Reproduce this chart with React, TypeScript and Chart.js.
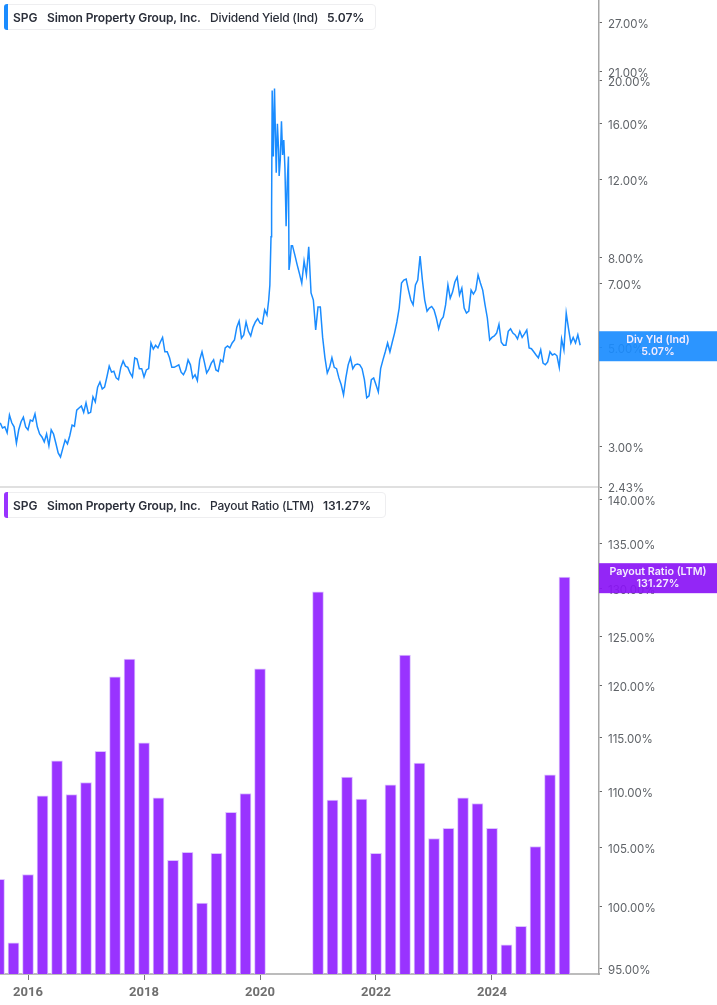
import React, { useEffect, useRef } from 'react';
import { Chart, registerables } from 'chart.js';

Chart.register(...registerables);

// --- data ---
const yieldDates = [
  2015.52, 2015.56, 2015.6, 2015.64, 2015.68, 2015.72, 2015.76, 2015.8, 2015.84, 2015.88, 2015.92, 2015.96,
  2016.0, 2016.04, 2016.08, 2016.12, 2016.16, 2016.2, 2016.24, 2016.28, 2016.32, 2016.36, 2016.4, 2016.44, 2016.48, 2016.52, 2016.56, 2016.6, 2016.64, 2016.68, 2016.72, 2016.76, 2016.8, 2016.84, 2016.88, 2016.92, 2016.96,
  2017.0, 2017.04, 2017.08, 2017.12, 2017.16, 2017.2, 2017.24, 2017.28, 2017.32, 2017.36, 2017.4, 2017.44, 2017.48, 2017.52, 2017.56, 2017.6, 2017.64, 2017.68, 2017.72, 2017.76, 2017.8, 2017.84, 2017.88, 2017.92, 2017.96,
  2018.0, 2018.04, 2018.08, 2018.12, 2018.16, 2018.2, 2018.24, 2018.28, 2018.32, 2018.36, 2018.4, 2018.44, 2018.48, 2018.52, 2018.56, 2018.6, 2018.64, 2018.68, 2018.72, 2018.76, 2018.8, 2018.84, 2018.88, 2018.92, 2018.96,
  2019.0, 2019.04, 2019.08, 2019.12, 2019.16, 2019.2, 2019.24, 2019.28, 2019.32, 2019.36, 2019.4, 2019.44, 2019.48, 2019.52, 2019.56, 2019.6, 2019.64, 2019.68, 2019.72, 2019.76, 2019.8, 2019.84, 2019.88, 2019.92, 2019.96,
  2020.0, 2020.04, 2020.08, 2020.12, 2020.15, 2020.17, 2020.19, 2020.2, 2020.21, 2020.23, 2020.25, 2020.26, 2020.28, 2020.3, 2020.32, 2020.33, 2020.35, 2020.37, 2020.39, 2020.41, 2020.43, 2020.45, 2020.47, 2020.49, 2020.5, 2020.52, 2020.54, 2020.56, 2020.6, 2020.64, 2020.68, 2020.72, 2020.76, 2020.8, 2020.84, 2020.88, 2020.92, 2020.96,
  2021.0, 2021.04, 2021.08, 2021.12, 2021.16, 2021.2, 2021.24, 2021.28, 2021.32, 2021.36, 2021.4, 2021.44, 2021.48, 2021.52, 2021.56, 2021.6, 2021.64, 2021.68, 2021.72, 2021.76, 2021.8, 2021.84, 2021.88, 2021.92, 2021.96,
  2022.0, 2022.04, 2022.08, 2022.12, 2022.16, 2022.2, 2022.24, 2022.28, 2022.32, 2022.36, 2022.4, 2022.44, 2022.48, 2022.52, 2022.56, 2022.6, 2022.64, 2022.68, 2022.72, 2022.76, 2022.8, 2022.84, 2022.88, 2022.92, 2022.96,
  2023.0, 2023.04, 2023.08, 2023.12, 2023.16, 2023.2, 2023.24, 2023.28, 2023.32, 2023.36, 2023.4, 2023.44, 2023.48, 2023.52, 2023.56, 2023.6, 2023.64, 2023.68, 2023.72, 2023.76, 2023.8, 2023.84, 2023.88, 2023.92, 2023.96,
  2024.0, 2024.04, 2024.08, 2024.12, 2024.16, 2024.2, 2024.24, 2024.28, 2024.32, 2024.36, 2024.4, 2024.44, 2024.48, 2024.52, 2024.56, 2024.6, 2024.64, 2024.68, 2024.72, 2024.76, 2024.8, 2024.84, 2024.88, 2024.92, 2024.96,
  2025.0, 2025.04, 2025.08, 2025.12, 2025.16, 2025.2, 2025.24, 2025.28, 2025.32, 2025.36, 2025.4, 2025.44, 2025.48, 2025.52,
];
const yieldValues = [
  3.39, 3.3, 3.32, 3.22, 3.53, 3.39, 3.32, 3.05, 3.27, 3.41, 3.49, 3.32,
  3.27, 3.44, 3.42, 3.55, 3.32, 3.2, 3.15, 3.07, 3.2, 3.01, 3.27, 3.2, 3.05, 2.9, 2.84, 2.97, 3.1, 3.04, 3.17, 3.35, 3.33, 3.62, 3.66, 3.7, 3.58,
  3.76, 3.56, 3.58, 3.88, 3.78, 4.08, 4.19, 4.04, 4.08, 4.3, 4.55, 4.41, 4.43, 4.28, 4.24, 4.52, 4.67, 4.55, 4.52, 4.39, 4.3, 4.75, 4.72, 4.49, 4.49,
  4.3, 4.46, 4.49, 5.13, 4.97, 5.07, 5.0, 5.15, 5.28, 4.9, 4.9, 4.75, 4.52, 4.52, 4.55, 4.58, 4.41, 4.35, 4.46, 4.7, 4.58, 4.28, 4.35, 4.22, 4.7,
  4.9, 4.65, 4.39, 4.48, 4.62, 4.7, 4.46, 4.43, 4.7, 4.65, 5.0, 5.05, 5.0, 5.13, 5.21, 5.57, 5.75, 5.26, 5.35, 5.72, 5.45, 5.32, 5.57, 5.72, 5.82,
  5.69, 5.66, 6.09, 5.93, 6.41, 6.93, 8.9, 10.4, 19.0, 13.5, 19.2, 16.5, 12.4, 16.0, 14.0, 12.2, 13.3, 16.2, 13.6, 14.7, 12.7, 9.4, 11.8, 13.5, 7.49, 7.85, 8.5, 8.5, 8.1, 7.7, 7.35, 7.0, 7.85, 7.3, 8.45, 6.65, 6.41, 5.49,
  6.18, 6.18, 5.28, 4.75, 4.39, 4.52, 4.75, 4.52, 4.49, 4.28, 4.13, 3.92, 4.28, 4.58, 4.75, 4.49, 4.58, 4.6, 4.58, 4.49, 4.24, 3.86, 3.9, 4.24, 4.28,
  4.13, 3.98, 4.49, 4.7, 4.9, 5.13, 4.9, 5.15, 5.4, 5.72, 6.15, 7.0, 7.11, 7.15, 6.75, 6.41, 6.25, 6.93, 7.11, 8.05, 7.11, 6.41, 6.05, 6.15, 6.2,
  6.09, 5.84, 5.52, 5.78, 5.87, 6.25, 6.93, 6.47, 6.68, 7.04, 7.22, 6.58, 6.82, 6.15, 5.99, 6.05, 6.75, 6.61, 6.75, 7.3, 7.0, 6.75, 6.25, 5.84, 5.21,
  5.28, 5.32, 5.4, 5.65, 5.15, 5.07, 5.07, 5.45, 5.52, 5.4, 5.35, 5.24, 5.45, 5.28, 5.38, 5.49, 5.0, 4.98, 4.9, 4.82, 4.75, 4.95, 4.62, 4.58, 4.65,
  4.9, 4.82, 4.85, 4.8, 4.52, 5.24, 4.95, 5.99, 5.52, 5.13, 5.28, 5.13, 5.35, 5.07,
];

const payoutQuarters = [
  2015.5, 2015.75,
  2016.0, 2016.25, 2016.5, 2016.75,
  2017.0, 2017.25, 2017.5, 2017.75,
  2018.0, 2018.25, 2018.5, 2018.75,
  2019.0, 2019.25, 2019.5, 2019.75,
  2020.0,
  2021.0, 2021.25, 2021.5, 2021.75,
  2022.0, 2022.25, 2022.5, 2022.75,
  2023.0, 2023.25, 2023.5, 2023.75,
  2024.0, 2024.25, 2024.5, 2024.75,
  2025.0, 2025.25,
];
const payoutValues = [
  102.3, 97.06,
  102.7, 109.6, 112.8, 109.7,
  110.8, 113.7, 120.9, 122.7,
  114.5, 109.4, 103.9, 104.6,
  100.3, 104.5, 108.1, 109.8,
  121.7,
  129.7, 109.2, 111.3, 109.3,
  104.5, 110.6, 123.1, 112.6,
  105.8, 106.7, 109.4, 108.9,
  106.7, 96.9, 98.4, 105.1,
  111.5, 131.27,
];

const yieldTicks = [2.43, 3, 5, 7, 8, 12, 16, 20, 21, 27];
const payoutTicks = [95, 100, 105, 110, 115, 120, 125, 130, 135, 140];
const yearTicks = [2016, 2018, 2020, 2022, 2024];

const lastYield = 5.07;
const lastPayout = 131.27;

const FONT = 'Inter, "Noto Sans", sans-serif';
const BLUE = '#1a8cff';
const PURPLE = '#9933ff';

// value tag sitting on the right axis, over the tick labels
const tagPlugin = (id: string, value: number, color: string, label: string) => ({
  id,
  afterDraw(chart: any) {
    const { ctx, chartArea } = chart;
    const y = chart.scales.y.getPixelForValue(value) + 1;
    const cx = (chartArea.right + chart.width) / 2;
    ctx.save();
    ctx.globalAlpha = 0.92;
    ctx.fillStyle = color;
    ctx.fillRect(chartArea.right, y - 15, chart.width - chartArea.right, 30);
    ctx.globalAlpha = 1;
    ctx.fillStyle = '#f4ecff';
    ctx.font = `600 10.7px ${FONT}`;
    ctx.textAlign = 'center';
    ctx.textBaseline = 'middle';
    ctx.fillText(label, cx, y - 6);
    ctx.fillText(value.toFixed(2) + '%', cx, y + 6);
    ctx.restore();
  },
});

const xScale = (bottomHeight: number, show: boolean, lineColor: string) => ({
  type: 'linear' as const,
  offset: false,
  min: 2015.517,
  max: 2025.845,
  afterBuildTicks: (s: any) => { s.ticks = show ? yearTicks.map((v) => ({ value: v })) : []; },
  afterFit: (s: any) => { s.height = bottomHeight; s.paddingLeft = 0; s.paddingRight = 0; },
  border: { color: lineColor, width: 2 },
  grid: { offset: false, drawOnChartArea: false, drawTicks: show, tickLength: 6, tickColor: '#777' },
  ticks: {
    display: show,
    autoSkip: false,
    maxRotation: 0,
    padding: 5,
    color: '#6f6f6f',
    font: { family: 'Roboto', size: 13, weight: 'bold' as const },
    callback: (v: any) => String(v),
  },
});

const yScale = (min: number, max: number, tickValues: number[]) => ({
  type: 'logarithmic' as const,
  position: 'right' as const,
  min,
  max,
  afterBuildTicks: (s: any) => { s.ticks = tickValues.map((v) => ({ value: v })); },
  afterFit: (s: any) => {
    s.width = 118;
    s.paddingTop = 0;
    s.paddingBottom = 0;
    // labels sit a pixel lower than the tick in the reference
    const compute = s._computeLabelItems;
    s._computeLabelItems = (area: any) => compute.call(s, area).map((it: any) => ({
      ...it,
      textOffset: it.textOffset + 1,
    }));
  },
  border: { color: '#a6a6a6', width: 1.5 },
  grid: { drawOnChartArea: false, tickLength: 3, tickColor: '#666' },
  ticks: {
    autoSkip: false,
    padding: 6,
    color: '#5f6368',
    font: { family: FONT, size: 11.5 },
    callback: (v: any) => Number(v).toFixed(2) + '%',
  },
});

const LegendBox = ({ top, width, color, metric, value, valueLeft }: any) => (
  <div style={{ position: 'absolute', left: 4, top, width, height: 26, boxSizing: 'border-box', background: '#fff', border: '1px solid #eeeef0', borderRadius: 4, display: 'flex', alignItems: 'center', fontFamily: FONT, fontSize: 12, color: '#2a2e39', whiteSpace: 'nowrap' }}>
    <div style={{ position: 'absolute', left: -1, top: -1, bottom: -1, width: 4, background: color, borderRadius: '3px 0 0 3px' }} />
    <span style={{ position: 'absolute', left: 8, fontWeight: 600 }}>SPG</span>
    <span style={{ position: 'absolute', left: 42, fontWeight: 600, letterSpacing: '-0.12px' }}>Simon Property Group, Inc.</span>
    <span style={{ position: 'absolute', left: 205, fontWeight: 500, letterSpacing: '-0.22px' }}>{metric}</span>
    <span style={{ position: 'absolute', left: valueLeft, fontWeight: 600 }}>{value}</span>
  </div>
);

export default function App() {
  const yieldRef = useRef<HTMLCanvasElement>(null);
  const payoutRef = useRef<HTMLCanvasElement>(null);

  useEffect(() => {
    if (!yieldRef.current || !payoutRef.current) return;

    const yieldChart = new Chart(yieldRef.current, {
      type: 'line',
      data: {
        datasets: [{
          data: yieldDates.map((d, i) => ({ x: d, y: yieldValues[i] })),
          borderColor: BLUE,
          borderWidth: 1.5,
          pointRadius: 0,
          tension: 0,
        }],
      },
      options: {
        animation: false,
        responsive: false,
        layout: { padding: 0 },
        plugins: { legend: { display: false }, tooltip: { enabled: false } },
        scales: {
          x: xScale(13, false, '#e0e0e0'),
          y: yScale(2.43, 30.4, yieldTicks),
        },
      } as any,
      plugins: [tagPlugin('yieldTag', lastYield, BLUE, 'Div Yld (Ind)')],
    });

    const payoutChart = new Chart(payoutRef.current, {
      type: 'bar',
      data: {
        datasets: [{
          data: payoutQuarters.map((q, i) => ({ x: q, y: payoutValues[i] })),
          backgroundColor: PURPLE,
          borderColor: '#dcc2ff',
          borderWidth: 1,
          barThickness: 11,
        }],
      },
      options: {
        animation: false,
        responsive: false,
        layout: { padding: 0 },
        plugins: { legend: { display: false }, tooltip: { enabled: false } },
        scales: {
          x: xScale(31, true, '#bcbcbc'),
          y: yScale(94.6, 141.3, payoutTicks),
        },
      } as any,
      plugins: [tagPlugin('payoutTag', lastPayout, '#8a14f5', 'Payout Ratio (LTM)')],
    });

    return () => {
      yieldChart.destroy();
      payoutChart.destroy();
    };
  }, []);

  return (
    <div style={{ position: 'absolute', left: 0, top: 0, width: 717, height: 1005, overflow: 'hidden', background: '#fff' }}>
      <canvas ref={yieldRef} width={717} height={500} style={{ position: 'absolute', left: 0, top: 0 }} />
      <canvas ref={payoutRef} width={717} height={517} style={{ position: 'absolute', left: 0, top: 488 }} />
      <LegendBox top={4} width={372} color={BLUE} metric="Dividend Yield (Ind)" value="5.07%" valueLeft={322} />
      <LegendBox top={492} width={382} color={PURPLE} metric="Payout Ratio (LTM)" value="131.27%" valueLeft={318} />
    </div>
  );
}
